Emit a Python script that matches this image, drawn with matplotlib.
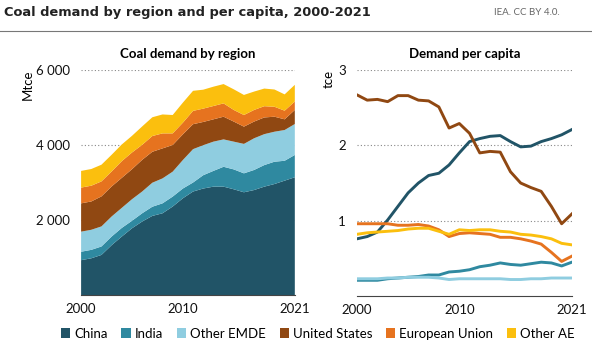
import numpy as np
import matplotlib.pyplot as plt
from matplotlib.patches import Patch
from matplotlib.lines import Line2D

plt.rcParams['font.family'] = ['Lato', 'DejaVu Sans']

years = list(range(2000, 2022))
regions = ['China', 'India', 'Other EMDE', 'United States', 'European Union', 'Other AE']
colors = ['#215467', '#2f89a0', '#8fcde0', '#904812', '#e6731f', '#fbbf0e']

# Coal demand by region (Mtce)
china = [930, 980, 1070, 1330, 1560, 1780, 1960, 2110, 2180, 2360, 2580,
         2760, 2840, 2890, 2890, 2820, 2740, 2800, 2890, 2960, 3050, 3140]
india = [225, 225, 225, 230, 230, 200, 220, 245, 265, 265, 260,
         240, 355, 420, 530, 530, 505, 535, 575, 595, 530, 595]
other_emde = [535, 535, 535, 535, 535, 575, 580, 640, 665, 665, 760,
              890, 800, 780, 730, 740, 785, 845, 825, 800, 820, 825]
united_states = [755, 755, 800, 800, 800, 800, 845, 825, 800, 710, 685,
                 665, 620, 595, 605, 535, 460, 445, 445, 400, 285, 375]
european_union = [420, 420, 400, 400, 445, 445, 400, 420, 400, 310, 310,
                  355, 355, 355, 355, 310, 310, 310, 300, 265, 230, 225]
other_ae = [445, 445, 445, 445, 445, 445, 490, 500, 505, 490, 535,
            535, 505, 515, 515, 550, 535, 490, 470, 460, 435, 445]

# Demand per capita (tce)
pc_china = [0.76, 0.79, 0.85, 1.01, 1.19, 1.37, 1.50, 1.60, 1.63, 1.74, 1.90,
            2.05, 2.09, 2.12, 2.13, 2.05, 1.98, 1.99, 2.05, 2.09, 2.14, 2.21]
pc_india = [0.21, 0.21, 0.21, 0.23, 0.24, 0.25, 0.26, 0.28, 0.28, 0.32, 0.33,
            0.35, 0.39, 0.41, 0.44, 0.42, 0.41, 0.43, 0.45, 0.44, 0.40, 0.45]
pc_other_emde = [0.23, 0.23, 0.23, 0.24, 0.24, 0.25, 0.25, 0.25, 0.24, 0.22, 0.23,
                 0.23, 0.23, 0.23, 0.23, 0.22, 0.22, 0.23, 0.23, 0.24, 0.24, 0.24]
pc_us = [2.67, 2.60, 2.61, 2.58, 2.66, 2.66, 2.60, 2.59, 2.51, 2.23, 2.29,
         2.16, 1.90, 1.92, 1.91, 1.65, 1.50, 1.44, 1.39, 1.19, 0.96, 1.09]
pc_eu = [0.96, 0.96, 0.96, 0.96, 0.94, 0.94, 0.95, 0.93, 0.88, 0.79, 0.83,
         0.84, 0.83, 0.82, 0.78, 0.78, 0.76, 0.73, 0.69, 0.58, 0.46, 0.53]
pc_other_ae = [0.82, 0.84, 0.85, 0.86, 0.87, 0.89, 0.90, 0.90, 0.86, 0.82, 0.88,
               0.87, 0.88, 0.88, 0.86, 0.85, 0.82, 0.81, 0.79, 0.76, 0.70, 0.68]

fig = plt.figure(figsize=(5.92, 3.5), dpi=100)

fig.text(0.006, 0.963, 'Coal demand by region and per capita, 2000-2021',
         fontsize=9.4, fontweight='bold', family=['DejaVu Sans'], color='#222222', va='center')
fig.text(0.946, 0.963, 'IEA. CC BY 4.0.', fontsize=7, color='#666666', ha='right', va='center')
fig.add_artist(Line2D([0.0, 1.0], [0.912, 0.912], color='#777777', lw=0.8))

grid_kw = dict(color='#888888', linestyle=(0, (1, 2)), linewidth=0.8)

# left panel: stacked areas
ax1 = fig.add_axes([0.137, 0.157, 0.361, 0.643])
ax1.stackplot(years, china, india, other_emde, united_states, european_union, other_ae,
              colors=colors, linewidth=0, zorder=2)
ax1.set_xlim(2000, 2021)
ax1.set_ylim(0, 6000)
ax1.set_yticks([2000, 4000, 6000])
ax1.set_yticklabels(['2 000', '4 000', '6 000'])
ax1.yaxis.grid(True, **grid_kw)
ax1.set_axisbelow(True)
ax1.set_title('Coal demand by region', fontsize=9.5, fontweight='bold', pad=9)
ax1.text(-0.25, 1.0, 'Mtce', transform=ax1.transAxes, rotation=90,
         fontsize=9.5, ha='center', va='top')

# right panel: per capita lines
ax2 = fig.add_axes([0.603, 0.154, 0.363, 0.646])
for vals, c in zip([pc_china, pc_india, pc_other_emde, pc_us, pc_eu, pc_other_ae], colors):
    ax2.plot(years, vals, color=c, linewidth=2.1, zorder=3)
ax2.set_xlim(2000, 2021)
ax2.set_ylim(0, 3)
ax2.set_yticks([1, 2, 3])
ax2.yaxis.grid(True, **grid_kw)
ax2.set_axisbelow(True)
ax2.set_title('Demand per capita', fontsize=9.5, fontweight='bold', pad=9)
ax2.text(-0.13, 1.0, 'tce', transform=ax2.transAxes, rotation=90,
         fontsize=9.5, ha='center', va='top')

for ax in (ax1, ax2):
    ax.set_xticks([2000, 2010, 2021])
    for s in ['top', 'right', 'left']:
        ax.spines[s].set_visible(False)
    ax.spines['bottom'].set_color('#444444')
    ax.tick_params(length=0, labelsize=9.5, colors='#111111')
    ax.tick_params(axis='x', pad=6)
    ax.tick_params(axis='y', pad=8)

handles = [Patch(facecolor=c, edgecolor='none') for c in colors]
fig.legend(handles, regions, loc='center', bbox_to_anchor=(0.537, 0.047), ncol=6,
           frameon=False, fontsize=9.5, handlelength=0.7, handleheight=0.7,
           handletextpad=0.3, columnspacing=1.05)

fig.savefig('out.png', dpi=100)
